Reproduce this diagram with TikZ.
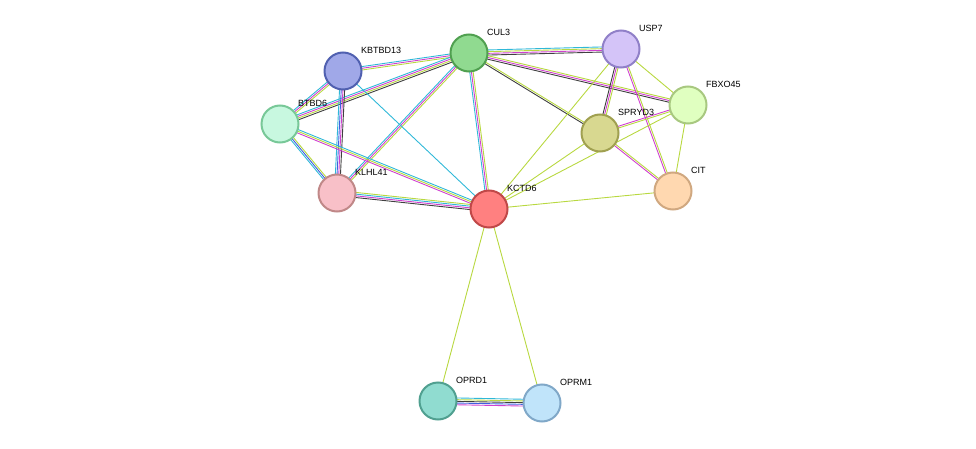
\documentclass[tikz,border=0pt]{standalone}
\usepackage{fontspec}
\setmainfont{Liberation Sans}
\usetikzlibrary{calc}
\pgfdeclarelayer{bg}
\pgfsetlayers{bg,main}
\definecolor{cy}{HTML}{30B8D8}
\definecolor{mg}{HTML}{D040D0}
\definecolor{yl}{HTML}{B8D840}
\definecolor{bk}{HTML}{404040}
\definecolor{bl}{HTML}{4060E0}
\newcommand\lnk[4]{%
 \foreach \c [count=\i] in {#4} {%
   \pgfmathsetmacro\o{(\i-(#3+1)/2)*1.7}%
   \draw[\c,line width=0.9pt] ($(#1)!\o pt!90:(#2)$) -- ($(#2)!\o pt!-90:(#1)$);
 }}
\tikzset{prot/.style={circle,minimum size=37pt,inner sep=0pt,line width=2pt},
 lab/.style={anchor=west,font=\fontsize{9}{10}\selectfont,inner sep=0pt}}
\newcommand\prot[6]{%
 \definecolor{f#1}{HTML}{#4}\definecolor{d#1}{HTML}{#5}%
 \node[prot,fill=f#1,draw=d#1] (#1) at (#2,#3) {};
 \node[lab] (#1l) at (#2+18,#3-21) {#6};}
\begin{document}
\begin{tikzpicture}[x=1pt,y=-1pt]
\useasboundingbox (0,0) rectangle (976,449);
\prot{KCTD6}{489}{209}{FF8080}{C04848}{KCTD6}
\prot{CUL3}{469}{53}{90DA90}{50A050}{CUL3}
\prot{USP7}{621}{49}{D4C4F8}{9080C8}{USP7}
\prot{FBXO45}{688}{105}{E0FFC0}{A8C880}{FBXO45}
\prot{SPRYD3}{600}{133}{D8D890}{A0A050}{SPRYD3}
\prot{CIT}{673}{191}{FFD8B0}{D0A880}{CIT}
\prot{KBTBD13}{343}{71}{A0A8E8}{5060B0}{KBTBD13}
\prot{BTBD6}{280}{124}{C8F8E0}{78C898}{BTBD6}
\prot{KLHL41}{337}{193}{F8C0C8}{C08888}{KLHL41}
\prot{OPRD1}{438}{401}{90DCD0}{50A090}{OPRD1}
\prot{OPRM1}{542}{403}{C0E4FA}{80A8C8}{OPRM1}
\begin{pgfonlayer}{bg}
\lnk{CUL3}{USP7}{4}{bk,mg,yl,cy}
\lnk{CUL3}{FBXO45}{3}{bk,mg,yl}
\lnk{CUL3}{SPRYD3}{2}{bk,yl}
\lnk{CUL3}{KCTD6}{3}{cy,mg,yl}
\lnk{CUL3}{KBTBD13}{3}{cy,mg,yl}
\lnk{CUL3}{BTBD6}{4}{cy,mg,yl,bk}
\lnk{CUL3}{KLHL41}{3}{cy,mg,yl}
\lnk{USP7}{SPRYD3}{3}{bk,mg,yl}
\lnk{USP7}{FBXO45}{1}{yl}
\lnk{USP7}{CIT}{2}{mg,yl}
\lnk{USP7}{KCTD6}{1}{yl}
\lnk{FBXO45}{SPRYD3}{2}{mg,yl}
\lnk{FBXO45}{CIT}{1}{yl}
\lnk{FBXO45}{KCTD6}{1}{yl}
\lnk{SPRYD3}{KCTD6}{1}{yl}
\lnk{SPRYD3}{CIT}{2}{mg,yl}
\lnk{CIT}{KCTD6}{1}{yl}
\lnk{KBTBD13}{BTBD6}{3}{cy,mg,yl}
\lnk{KBTBD13}{KLHL41}{4}{cy,bl,mg,bk}
\lnk{KBTBD13}{KCTD6}{1}{cy}
\lnk{BTBD6}{KLHL41}{3}{cy,bl,yl}
\lnk{BTBD6}{KCTD6}{3}{mg,yl,cy}
\lnk{KLHL41}{KCTD6}{4}{bk,mg,cy,yl}
\lnk{KCTD6}{OPRD1}{1}{yl}
\lnk{KCTD6}{OPRM1}{1}{yl}
\lnk{OPRD1}{OPRM1}{5}{mg,bl,bk,yl,cy}
\end{pgfonlayer}
\end{tikzpicture}
\end{document}
